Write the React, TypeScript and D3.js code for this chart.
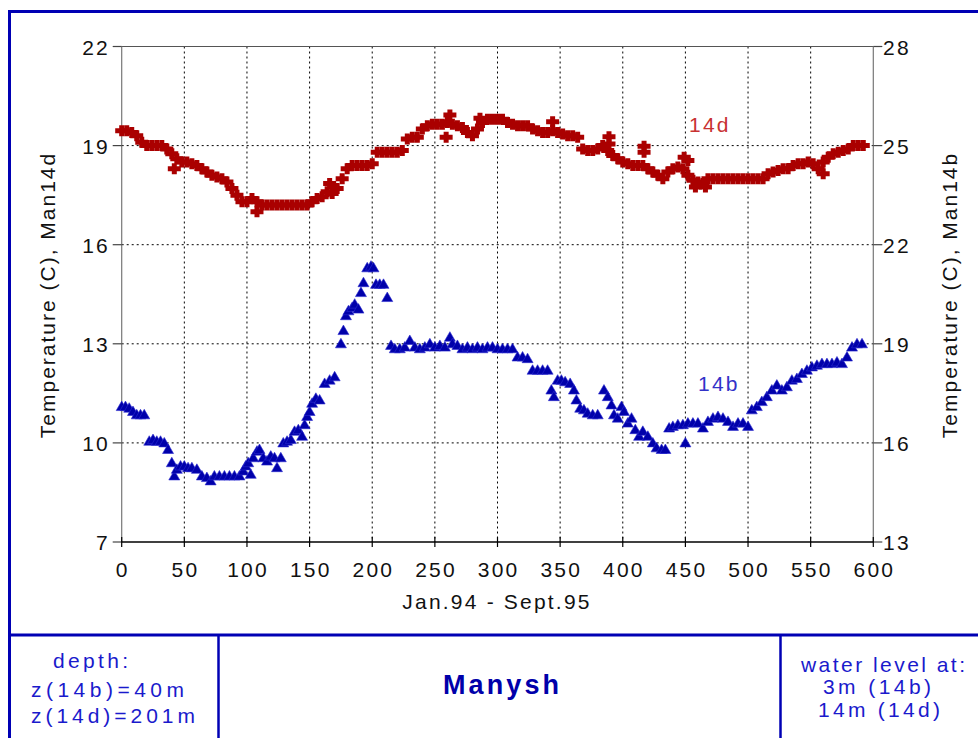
import React from "react";
import * as d3 from "d3";

// 14d (left axis, °C) — [day, value]
const red14d: [number, number][] = [
  [0, 19.45], [4, 19.45], [8, 19.4], [12, 19.3], [16, 19.1], [20, 19.0], [24, 19.0], [28, 19.0],
  [32, 19.0], [36, 18.9], [40, 18.75], [44, 18.6], [48, 18.5], [52, 18.5], [56, 18.45], [60, 18.4],
  [64, 18.3], [68, 18.2], [72, 18.1], [76, 18.05], [80, 18.0], [84, 17.9], [88, 17.7], [92, 17.5],
  [96, 17.3], [100, 17.3], [104, 17.4], [108, 17.3], [112, 17.2], [116, 17.2], [120, 17.2], [124, 17.2],
  [128, 17.2], [132, 17.2], [136, 17.2], [140, 17.2], [144, 17.2], [148, 17.2], [152, 17.3], [156, 17.4],
  [160, 17.45], [164, 17.6], [168, 17.55], [172, 17.7], [176, 18.0], [180, 18.3], [184, 18.4], [188, 18.4],
  [192, 18.4], [196, 18.4], [200, 18.45], [204, 18.8], [208, 18.8], [212, 18.8], [216, 18.8], [220, 18.8],
  [224, 18.85], [228, 19.2], [232, 19.25], [236, 19.25], [240, 19.5], [244, 19.6], [248, 19.65], [252, 19.65],
  [256, 19.65], [260, 19.7], [264, 19.65], [268, 19.6], [272, 19.55], [276, 19.4], [280, 19.3], [284, 19.5],
  [288, 19.7], [292, 19.8], [296, 19.8], [300, 19.8], [304, 19.8], [308, 19.7], [312, 19.65], [316, 19.6],
  [320, 19.6], [324, 19.6], [328, 19.5], [332, 19.45], [336, 19.4], [340, 19.4], [344, 19.45], [348, 19.4],
  [352, 19.35], [356, 19.3], [360, 19.3], [364, 19.25], [368, 18.9], [372, 18.85], [376, 18.85], [380, 18.9],
  [384, 19.0], [388, 18.85], [392, 18.7], [396, 18.6], [400, 18.5], [404, 18.45], [408, 18.4], [412, 18.4],
  [416, 18.4], [420, 18.3], [424, 18.2], [428, 18.1], [432, 18.0], [436, 18.2], [440, 18.3], [444, 18.35],
  [448, 18.3], [452, 18.1], [456, 17.95], [460, 17.9], [464, 17.85], [468, 18.0], [472, 18.0], [476, 18.0],
  [480, 18.0], [484, 18.0], [488, 18.0], [492, 18.0], [496, 18.0], [500, 18.0], [504, 18.0], [508, 18.0],
  [512, 18.0], [516, 18.15], [520, 18.2], [524, 18.25], [528, 18.3], [532, 18.3], [536, 18.4], [540, 18.45],
  [544, 18.45], [548, 18.5], [552, 18.45], [556, 18.3], [560, 18.5], [564, 18.65], [568, 18.75], [572, 18.8],
  [576, 18.85], [580, 18.9], [584, 19.0], [588, 19.0], [592, 19.0],
  // scattered readings
  [42, 18.3], [108, 17.0], [166, 17.85], [259, 19.25], [262, 19.93], [286, 19.83], [344, 19.72],
  [389, 19.27], [389, 19.05], [417, 18.98], [417, 18.8], [449, 18.65], [452, 18.55], [458, 17.75],
  [466, 17.75], [560, 18.15],
];

// 14b (right axis, °C) — [day, value]
const blue14b: [number, number][] = [
  [0, 17.1], [3, 17.1], [6, 17.05], [9, 16.95], [12, 16.85], [15, 16.85], [18, 16.85], [22, 16.05],
  [25, 16.1], [28, 16.05], [31, 16.05], [34, 16.0], [37, 15.8], [40, 15.4], [42, 15.0], [44, 15.2],
  [47, 15.3], [50, 15.3], [53, 15.25], [56, 15.25], [60, 15.2], [64, 15.0], [68, 14.95], [71, 14.85],
  [74, 15.0], [78, 15.0], [82, 15.0], [86, 15.0], [90, 15.0], [94, 15.0], [97, 15.15], [99, 15.3],
  [101, 15.4], [103, 15.05], [105, 15.55], [108, 15.75], [110, 15.8], [113, 15.55], [116, 15.45], [119, 15.6],
  [122, 15.55], [124, 15.25], [127, 15.55], [129, 16.0], [132, 16.05], [135, 16.1], [138, 16.35], [141, 16.4],
  [144, 16.2], [146, 16.55], [148, 16.8], [150, 16.95], [152, 17.2], [155, 17.35], [158, 17.3], [162, 17.8],
  [166, 17.9], [170, 18.0], [175, 19.0], [177, 19.4], [179, 19.85], [181, 20.0], [184, 20.1], [186, 20.2],
  [189, 20.05], [191, 20.55], [193, 20.85], [196, 21.3], [199, 21.35], [201, 21.3], [203, 20.8], [206, 20.8],
  [209, 20.8], [212, 20.4], [215, 18.95], [218, 18.85], [222, 18.85], [226, 18.9], [230, 19.1], [234, 18.9],
  [238, 18.85], [242, 18.9], [246, 19.0], [250, 18.9], [254, 18.95], [258, 18.9], [262, 19.2], [264, 19.0],
  [268, 18.95], [272, 18.85], [276, 18.9], [280, 18.85], [284, 18.9], [288, 18.85], [292, 18.9], [296, 18.9],
  [300, 18.85], [304, 18.85], [308, 18.85], [312, 18.85], [316, 18.6], [320, 18.6], [324, 18.55], [328, 18.2],
  [332, 18.2], [336, 18.2], [340, 18.2], [343, 17.6], [345, 17.4], [348, 17.9], [351, 17.9], [354, 17.85],
  [358, 17.8], [361, 17.6], [363, 17.3], [366, 17.05], [369, 17.0], [372, 16.9], [376, 16.85], [380, 16.85],
  [385, 17.6], [388, 17.4], [391, 17.15], [393, 16.85], [396, 16.75], [399, 17.1], [401, 16.95], [404, 16.6],
  [407, 16.75], [410, 16.4], [413, 16.2], [416, 16.35], [420, 16.2], [424, 16.0], [427, 15.85], [431, 15.8],
  [434, 15.8], [437, 16.45], [440, 16.5], [444, 16.55], [448, 16.55], [450, 16.0], [452, 16.6], [456, 16.6],
  [460, 16.6], [464, 16.45], [468, 16.65], [472, 16.75], [476, 16.8], [480, 16.75], [484, 16.65], [488, 16.5],
  [492, 16.6], [496, 16.6], [500, 16.5], [503, 17.0], [507, 17.1], [511, 17.25], [515, 17.4], [519, 17.6],
  [523, 17.75], [527, 17.6], [531, 17.7], [535, 17.9], [539, 17.95], [543, 18.1], [547, 18.2], [551, 18.3],
  [555, 18.35], [559, 18.4], [563, 18.4], [567, 18.4], [571, 18.45], [575, 18.4], [579, 18.6], [583, 18.9],
  [587, 19.0], [591, 19.0],
];

const xTicks = [0, 50, 100, 150, 200, 250, 300, 350, 400, 450, 500, 550, 600];
const leftTicks = [7, 10, 13, 16, 19, 22];
const rightTicks = [13, 16, 19, 22, 25, 28];

const FONT = "'Liberation Sans', Arial, Helvetica, sans-serif";
const RED = "#aa0000";
const BLUE = "#0000aa";
const FRAME = "#0000b4";

export default function App() {
  const x = d3.scaleLinear().domain([0, 600]).range([121.7, 873.3]);
  const yL = d3.scaleLinear().domain([7, 22]).range([542, 46.5]);
  const yR = d3.scaleLinear().domain([13, 28]).range([542, 46.5]);

  const plus = (cx: number, cy: number) =>
    `M${cx - 6.5},${cy - 2.5}h13v5h-13z M${cx - 2.5},${cy - 5.5}h5v11h-5z`;
  const tri = (cx: number, cy: number) =>
    `M${cx},${cy - 5.5}L${cx + 5.5},${cy + 4}L${cx - 5.5},${cy + 4}Z`;

  const txt = { fontFamily: FONT, fontSize: 21, letterSpacing: "2.2px" } as React.CSSProperties;

  return (
    <svg
      width={978}
      height={738}
      style={{ position: "absolute", left: 0, top: 0, background: "#fff" }}
    >
      {/* frame */}
      <rect x={0} y={0} width={978} height={738} fill="#fff" />
      <line x1={8} x2={978} y1={11.5} y2={11.5} stroke={FRAME} strokeWidth={3} />
      <line x1={9.5} x2={9.5} y1={10} y2={738} stroke={FRAME} strokeWidth={3} />
      <line x1={8} x2={978} y1={635} y2={635} stroke={FRAME} strokeWidth={3} />
      <line x1={218.5} x2={218.5} y1={635} y2={738} stroke={FRAME} strokeWidth={2.5} />
      <line x1={780.5} x2={780.5} y1={635} y2={738} stroke={FRAME} strokeWidth={2.5} />

      {/* grid */}
      {xTicks.slice(1, -1).map((t) => (
        <line key={"gx" + t} x1={x(t)} x2={x(t)} y1={yL(22)} y2={yL(7)} stroke="#000" strokeWidth={1} strokeDasharray="2,3" />
      ))}
      {leftTicks.slice(1, -1).map((t) => (
        <line key={"gy" + t} x1={x(0)} x2={x(600)} y1={yL(t)} y2={yL(t)} stroke="#000" strokeWidth={1} strokeDasharray="2,3" />
      ))}

      {/* plot frame */}
      <line x1={x(0)} x2={x(600)} y1={yL(22)} y2={yL(22)} stroke="#555" strokeWidth={1} />
      <line x1={x(0)} x2={x(0)} y1={yL(22)} y2={yL(7)} stroke="#777" strokeWidth={1.2} />
      <line x1={x(600)} x2={x(600)} y1={yL(22)} y2={yL(7)} stroke="#777" strokeWidth={1.2} />
      <line x1={x(0)} x2={x(600)} y1={yL(7)} y2={yL(7)} stroke="#000" strokeWidth={1.5} />

      {/* left ticks */}
      {leftTicks.map((t) => (
        <g key={"lt" + t}>
          <line x1={x(0) - 9} x2={x(0)} y1={yL(t)} y2={yL(t)} stroke="#444" strokeWidth={1.2} />
          <text x={110} y={yL(t) + 8} textAnchor="end" style={txt} fill="#111">{t}</text>
        </g>
      ))}
      {/* right ticks */}
      {rightTicks.map((t) => (
        <g key={"rt" + t}>
          <line x1={x(600)} x2={x(600) + 9} y1={yR(t)} y2={yR(t)} stroke="#444" strokeWidth={1.2} />
          <text x={883} y={yR(t) + 8} textAnchor="start" style={txt} fill="#111">{t}</text>
        </g>
      ))}
      {/* bottom ticks */}
      {xTicks.map((t) => (
        <g key={"bt" + t}>
          <line x1={x(t)} x2={x(t)} y1={yL(7) - 5} y2={yL(7) + 5} stroke="#000" strokeWidth={1.2} />
          <text x={x(t) + 1.1} y={577} textAnchor="middle" style={txt} fill="#111">{t}</text>
        </g>
      ))}

      {/* axis titles */}
      <text x={497} y={609} textAnchor="middle" style={txt} fill="#111">Jan.94 - Sept.95</text>
      <text
        transform={`translate(55,295) rotate(-90)`}
        textAnchor="middle"
        style={{ ...txt, letterSpacing: "2px" }}
        fill="#111"
      >
        Temperature (C), Man14d
      </text>
      <text
        transform={`translate(957,295) rotate(-90)`}
        textAnchor="middle"
        style={{ ...txt, letterSpacing: "2px" }}
        fill="#111"
      >
        Temperature (C), Man14b
      </text>

      {/* series 14d */}
      <g fill={RED}>
        {red14d.map(([d, v], i) => (
          <path key={"r" + i} d={plus(x(d), yL(v))} />
        ))}
      </g>
      {/* series 14b */}
      <g fill={BLUE} stroke="#2a2ad0" strokeWidth={0.6}>
        {blue14b.map(([d, v], i) => (
          <path key={"b" + i} d={tri(x(d), yR(v))} />
        ))}
      </g>

      <text x={689} y={132} style={txt} fill="#c83232">14d</text>
      <text x={698} y={391} style={txt} fill="#3232c8">14b</text>

      {/* bottom panel */}
      <g style={{ fontFamily: FONT, fontSize: 21 }} fill="#1a1acc">
        <text x={53} y={668} textLength={75} lengthAdjust="spacing">depth:</text>
        <text x={31} y={697} textLength={153} lengthAdjust="spacing">z(14b)=40m</text>
        <text x={31} y={723} textLength={164} lengthAdjust="spacing">z(14d)=201m</text>
        <text x={801} y={672} textLength={164} lengthAdjust="spacing">water level at:</text>
        <text x={823} y={694} textLength={108} lengthAdjust="spacing">3m (14b)</text>
        <text x={818} y={717} textLength={122} lengthAdjust="spacing">14m (14d)</text>
      </g>
      <text
        x={443}
        y={694}
        textLength={116}
        lengthAdjust="spacing"
        style={{ fontFamily: FONT, fontSize: 27, fontWeight: "bold" }}
        fill="#0000aa"
      >
        Manysh
      </text>
    </svg>
  );
}
